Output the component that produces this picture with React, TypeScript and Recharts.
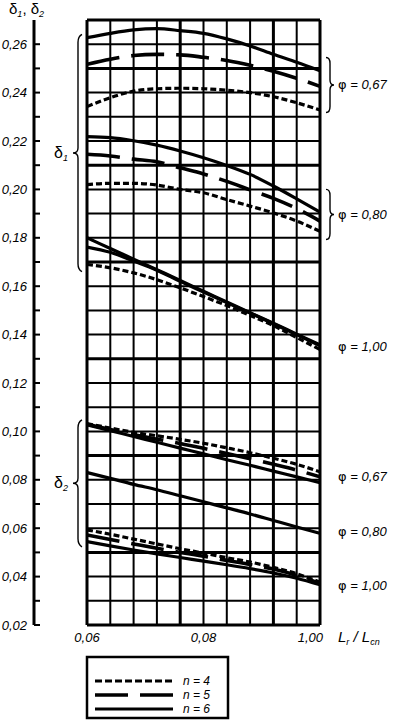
import React from 'react';
import { LineChart, Line, XAxis, YAxis, ReferenceLine } from 'recharts';

if (typeof document !== 'undefined') {
  document.body.style.margin = '0';
}

// ---------- data ----------
const xs = [0.06, 0.064, 0.068, 0.072, 0.076, 0.08, 0.084, 0.088, 0.092, 0.096, 0.1];

const d1_067_n6 = [0.2627, 0.2645, 0.2659, 0.2664, 0.2656, 0.2645, 0.2622, 0.2593, 0.2558, 0.2525, 0.249];
const d1_067_n5 = [0.2517, 0.2538, 0.2553, 0.2558, 0.2556, 0.2546, 0.2533, 0.2513, 0.2488, 0.2459, 0.2426];
const d1_067_n4 = [0.2342, 0.2379, 0.2406, 0.2416, 0.2418, 0.2416, 0.241, 0.24, 0.2383, 0.2358, 0.2328];
const d1_080_n6 = [0.2218, 0.2214, 0.2201, 0.2183, 0.2159, 0.2131, 0.2099, 0.2062, 0.2014, 0.1961, 0.1906];
const d1_080_n5 = [0.2145, 0.2138, 0.2125, 0.2114, 0.2089, 0.2064, 0.2033, 0.1998, 0.1963, 0.1921, 0.1869];
const d1_080_n4 = [0.202, 0.2025, 0.2025, 0.2018, 0.2, 0.1986, 0.1958, 0.1931, 0.1903, 0.1869, 0.1827];
const d1_100_n6 = [0.18, 0.1756, 0.1712, 0.1668, 0.1624, 0.1579, 0.1535, 0.149, 0.1447, 0.1402, 0.1358];
const d1_100_n5 = [0.1762, 0.174, 0.1704, 0.1666, 0.162, 0.1576, 0.1532, 0.1489, 0.1445, 0.14, 0.1354];
const d1_100_n4 = [0.169, 0.1676, 0.1655, 0.1627, 0.1593, 0.1557, 0.152, 0.1479, 0.1437, 0.1388, 0.1338];
const d2_067_n6 = [0.1027, 0.1003, 0.0979, 0.0955, 0.0931, 0.0907, 0.0883, 0.086, 0.0836, 0.0812, 0.0788];
const d2_067_n5 = [0.103, 0.1008, 0.0987, 0.0968, 0.095, 0.093, 0.0909, 0.0887, 0.0864, 0.084, 0.0812];
const d2_067_n4 = [0.1032, 0.1014, 0.0996, 0.0982, 0.0967, 0.0951, 0.0932, 0.0912, 0.0889, 0.0864, 0.0833];
const d2_080_all = [0.083, 0.0806, 0.0781, 0.0759, 0.0734, 0.0709, 0.0684, 0.0659, 0.0632, 0.0605, 0.0579];
const d2_100_n4 = [0.0593, 0.0575, 0.0555, 0.0535, 0.0515, 0.0497, 0.0478, 0.046, 0.0438, 0.0412, 0.0377];
const d2_100_n5 = [0.0572, 0.0553, 0.0535, 0.0517, 0.05, 0.0484, 0.0467, 0.045, 0.0431, 0.0405, 0.0372];
const d2_100_n6 = [0.0545, 0.0527, 0.051, 0.0494, 0.0479, 0.0464, 0.0449, 0.0433, 0.0415, 0.0393, 0.0366];

const xTickValues = [0.06, 0.08, 0.1];
const xTickLabels = ['0,06', '0,08', '1,00'];
const yTickValues = [0.02, 0.03, 0.04, 0.05, 0.06, 0.07, 0.08, 0.09, 0.1, 0.11, 0.12, 0.13, 0.14, 0.15, 0.16, 0.17, 0.18, 0.19, 0.2, 0.21, 0.22, 0.23, 0.24, 0.25, 0.26];
const gridY = [0.02, 0.03, 0.04, 0.05, 0.06, 0.07, 0.08, 0.09, 0.1, 0.11, 0.12, 0.13, 0.14, 0.15, 0.16, 0.17, 0.18, 0.19, 0.2, 0.21, 0.22, 0.23, 0.24, 0.25, 0.26, 0.27];
const thickY = [0.02, 0.05, 0.09, 0.13, 0.17, 0.21, 0.25, 0.27];
const gridX = xs;
const thickX = [0.06, 0.076, 0.092, 0.1];

const legendItems = [
  { label: 'n = 4', style: 'n4' },
  { label: 'n = 5', style: 'n5' },
  { label: 'n = 6', style: 'n6' },
];

const phiLabels = [
  { text: '0,67', v: 0.2434, brace: [0.2545, 0.2318] },
  { text: '0,80', v: 0.1897, brace: [0.2, 0.1793] },
  { text: '1,00', v: 0.1354, brace: null },
  { text: '0,67', v: 0.0816, brace: null },
  { text: '0,80', v: 0.0589, brace: null },
  { text: '1,00', v: 0.0365, brace: null },
];

const deltaGroups = [
  { sub: '1', top: 0.2641, bottom: 0.166 },
  { sub: '2', top: 0.1048, bottom: 0.0523 },
];

// ---------- series config ----------
const STYLES: Record<string, { dash?: string; width: number }> = {
  n4: { dash: '6 3', width: 3.2 },
  n5: { dash: '33 12', width: 3.6 },
  n6: { width: 3.2 },
};

const series = [
  { key: 'd1_067_n6', vals: d1_067_n6, style: 'n6' },
  { key: 'd1_067_n5', vals: d1_067_n5, style: 'n5' },
  { key: 'd1_067_n4', vals: d1_067_n4, style: 'n4' },
  { key: 'd1_080_n6', vals: d1_080_n6, style: 'n6' },
  { key: 'd1_080_n5', vals: d1_080_n5, style: 'n5' },
  { key: 'd1_080_n4', vals: d1_080_n4, style: 'n4' },
  { key: 'd1_100_n6', vals: d1_100_n6, style: 'n6' },
  { key: 'd1_100_n5', vals: d1_100_n5, style: 'n6' },
  { key: 'd1_100_n4', vals: d1_100_n4, style: 'n4' },
  { key: 'd2_067_n6', vals: d2_067_n6, style: 'n6' },
  { key: 'd2_067_n5', vals: d2_067_n5, style: 'n5' },
  { key: 'd2_067_n4', vals: d2_067_n4, style: 'n4' },
  { key: 'd2_080_all', vals: d2_080_all, style: 'n6' },
  { key: 'd2_100_n6', vals: d2_100_n6, style: 'n6' },
  { key: 'd2_100_n5', vals: d2_100_n5, style: 'n5' },
  { key: 'd2_100_n4', vals: d2_100_n4, style: 'n4' },
];

const data = xs.map((x, i) => {
  const row: Record<string, number> = { x };
  series.forEach((s) => {
    row[s.key] = s.vals[i];
  });
  return row;
});

// ---------- layout ----------
const W = 394;
const H = 723;
const X_AXIS_H = 30;
const Y_INNER_W = 53;
const Y_OUTER_W = 34;
const M = { top: 20, right: 74, left: 0, bottom: H - 625 - X_AXIS_H };
const PLOT = {
  left: M.left + Y_INNER_W + Y_OUTER_W,
  right: W - M.right,
  top: M.top,
  bottom: H - M.bottom - X_AXIS_H,
};
const Y_MIN = 0.02;
const Y_MAX = 0.27;
const yPx = (v: number) => PLOT.top + ((Y_MAX - v) / (Y_MAX - Y_MIN)) * (PLOT.bottom - PLOT.top);

const FONT = "'Liberation Sans', Arial, sans-serif";

const fmt = (v: number) => v.toFixed(2).replace('.', ',');

const YTick = (props: any) => {
  const { x, y, payload } = props;
  const v = payload.value as number;
  const major = Math.round(v * 100) % 2 === 0;
  return (
    <g>
      <line x1={x} x2={x + 6} y1={y} y2={y} stroke="#000" strokeWidth={2} />
      {major && (
        <text x={x - 7} y={y} textAnchor="end" dominantBaseline="central" fontFamily={FONT} fontStyle="italic" fontSize={13} fill="#000">
          {fmt(v)}
        </text>
      )}
    </g>
  );
};

const XTick = (props: any) => {
  const { x, y, index } = props;
  const last = index === xTickLabels.length - 1;
  return (
    <text x={last ? x + 3 : x} y={y + 17} textAnchor={last ? 'end' : 'middle'} fontFamily={FONT} fontStyle="italic" fontSize={13} fill="#000">
      {xTickLabels[index]}
    </text>
  );
};

const rightBrace = (x: number, y1: number, y2: number, key: string) => {
  const mid = (y1 + y2) / 2;
  const d = `M ${x} ${y1} Q ${x + 4} ${y1} ${x + 4} ${y1 + 6} L ${x + 4} ${mid - 5} Q ${x + 4} ${mid} ${x + 8} ${mid} Q ${x + 4} ${mid} ${x + 4} ${mid + 5} L ${x + 4} ${y2 - 6} Q ${x + 4} ${y2} ${x} ${y2}`;
  return <path key={key} d={d} fill="none" stroke="#000" strokeWidth={1.4} />;
};

const leftBrace = (x: number, y1: number, y2: number, mid: number, key: string) => {
  const d = `M ${x + 4} ${y1} Q ${x} ${y1 + 2} ${x} ${y1 + 8} L ${x} ${mid - 5} Q ${x} ${mid} ${x - 5} ${mid} Q ${x} ${mid} ${x} ${mid + 5} L ${x} ${y2 - 8} Q ${x} ${y2 - 2} ${x + 4} ${y2}`;
  return <path key={key} d={d} fill="none" stroke="#000" strokeWidth={1.4} />;
};

const Annotations = () => {
  const lx = PLOT.left + 8;
  const ly0 = PLOT.bottom + 32;
  return (
    <g>
      {/* axis title */}
      <text x={9} y={14} fontFamily={FONT} fontSize={15} fill="#000">
        <tspan>δ</tspan>
        <tspan fontSize={9} dy={3} fontStyle="italic">1</tspan>
        <tspan dy={-3}>, δ</tspan>
        <tspan fontSize={9} dy={3} fontStyle="italic">2</tspan>
      </text>
      {/* x axis title */}
      <text x={PLOT.right + 18} y={PLOT.bottom + 17} fontFamily={FONT} fontStyle="italic" fontSize={15} fill="#000">
        <tspan>L</tspan>
        <tspan fontSize={9} dy={3}>r</tspan>
        <tspan dy={-3}> / L</tspan>
        <tspan fontSize={9} dy={3}>cn</tspan>
      </text>
      {/* right φ labels */}
      {phiLabels.map((p, i) => (
        <g key={'phi' + i}>
          {p.brace && rightBrace(PLOT.right + 6, yPx(p.brace[0]), yPx(p.brace[1]), 'b' + i)}
          <text x={PLOT.right + 18} y={yPx(p.v)} dominantBaseline="central" fontFamily={FONT} fontSize={13} fill="#000">
            <tspan fontFamily="'DejaVu Sans', sans-serif" fontSize={13}>φ</tspan>
            <tspan fontStyle="italic"> = {p.text}</tspan>
          </text>
        </g>
      ))}
      {/* left δ groups */}
      {deltaGroups.map((g, i) => {
        const y1 = yPx(g.top);
        const y2 = yPx(g.bottom);
        const mid = (y1 + y2) / 2;
        return (
          <g key={'dg' + i}>
            {leftBrace(PLOT.left - 9, y1, y2, mid, 'lb' + i)}
            <text x={PLOT.left - 33} y={mid + 5} fontFamily={FONT} fontSize={16} fill="#000">
              <tspan>δ</tspan>
              <tspan fontSize={9} dy={3} fontStyle="italic">{g.sub}</tspan>
            </text>
          </g>
        );
      })}
      {/* legend */}
      <rect x={PLOT.left} y={ly0} width={141} height={61} fill="#fff" stroke="#000" strokeWidth={2.5} />
      {legendItems.map((it, i) => {
        const st = STYLES[it.style];
        const yy = ly0 + 24 + i * 14;
        return (
          <g key={'lg' + i}>
            <line x1={lx} x2={lx + 78} y1={yy} y2={yy} stroke="#000" strokeWidth={st.width} strokeDasharray={it.style === 'n4' ? '7 3' : st.dash} />
            <text x={lx + 88} y={yy} dominantBaseline="central" fontFamily={FONT} fontStyle="italic" fontSize={12} fill="#000">
              {it.label}
            </text>
          </g>
        );
      })}
    </g>
  );
};

export default function App() {
  return (
    <div style={{ width: W, height: H }}>
      <LineChart width={W} height={H} data={data} margin={M}>
        <XAxis
          dataKey="x"
          type="number"
          domain={[0.06, 0.1]}
          ticks={xTickValues}
          interval={0}
          height={X_AXIS_H}
          axisLine={false}
          tickLine={false}
          tickSize={0}
          tickMargin={0}
          tick={<XTick />}
          allowDataOverflow
        />
        <YAxis yAxisId="y" type="number" domain={[Y_MIN, Y_MAX]} width={Y_INNER_W} tick={false} axisLine={false} tickLine={false} allowDataOverflow />
        <YAxis
          yAxisId="yo"
          type="number"
          domain={[Y_MIN, Y_MAX]}
          width={Y_OUTER_W}
          ticks={yTickValues}
          interval={0}
          tickSize={0}
          tickMargin={0}
          tickLine={false}
          axisLine={{ stroke: '#000', strokeWidth: 3 }}
          tick={<YTick />}
          allowDataOverflow
        />
        {gridY.map((v) => (
          <ReferenceLine key={'gy' + v} yAxisId="y" y={v} stroke="#000" strokeWidth={thickY.includes(v) ? 3 : 2} />
        ))}
        {gridX.map((v) => (
          <ReferenceLine key={'gx' + v} yAxisId="y" x={v} stroke="#000" strokeWidth={thickX.includes(v) ? 3 : 2} />
        ))}
        {series.map((s) => (
          <Line
            key={s.key}
            yAxisId="y"
            dataKey={s.key}
            type="monotone"
            stroke="#000"
            strokeWidth={STYLES[s.style].width}
            strokeDasharray={STYLES[s.style].dash}
            dot={false}
            activeDot={false}
            isAnimationActive={false}
          />
        ))}
        <Annotations />
      </LineChart>
    </div>
  );
}
